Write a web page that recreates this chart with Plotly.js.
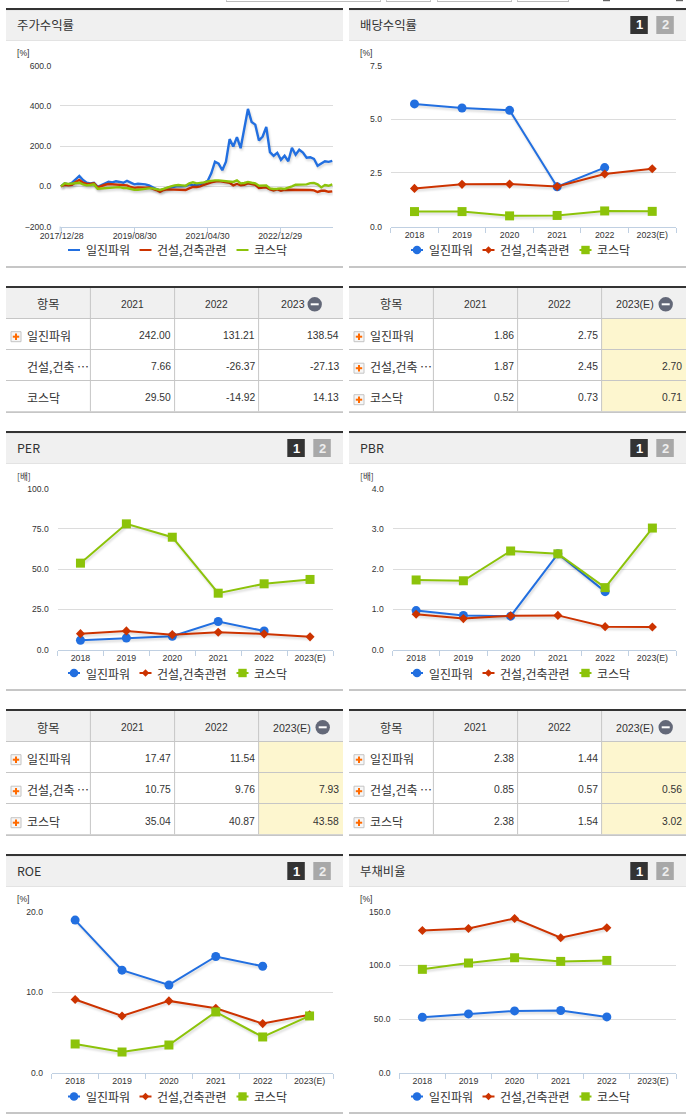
<!DOCTYPE html>
<html><head><meta charset="utf-8">
<script src="https://cdn.plot.ly/plotly-3.0.1.min.js"></script>
<style>
html,body{margin:0;padding:0;background:#fff;overflow:hidden}
#g{width:691px;height:1115px}
.scatterlayer .lines path{filter:drop-shadow(1px 2px 1px rgba(0,0,0,.16))}
</style></head><body><div id="g"></div>
<script>
const seriesNames=['일진파워','건설,건축관련','코스닥'];
const years=['2018','2019','2020','2021','2022','2023(E)'];

// 주가수익률 (monthly, %)
const stockDates=['2017/12/28','2019/08/30','2021/04/30','2022/12/29'];
const stockBlue=[0,15,10,18,35,52,32,18,15,18,
 -2,5,15,23,20,25,22,18,27,18,
 10,13,12,10,5,-5,-13,-20,-13,-8,
 -5,-2,2,0,2,10,5,7,10,18,
 27,65,123,113,80,123,235,198,245,190,
 290,385,320,307,228,248,295,170,152,167,
 132,152,125,192,157,182,168,143,145,137,
 102,115,125,122,127];
const stockRed=[0,8,5,8,22,32,18,12,12,15,
 -5,2,8,12,10,10,8,5,5,-3,
 -8,-5,-7,-7,-5,-10,-18,-27,-18,-15,
 -15,-17,-17,-17,-18,-10,-3,-3,0,8,
 15,20,24,26,24,22,18,5,12,5,
 8,15,12,8,-8,-8,-5,-15,-20,-15,
 -22,-17,-17,-15,-15,-15,-15,-15,-18,-20,
 -28,-22,-22,-27,-25];
const stockGreen=[0,15,12,13,15,18,10,5,7,10,
 -12,-10,-10,-8,-6,-5,-4,-8,-8,-12,
 -17,-17,-14,-13,-10,-10,-13,-18,-12,-5,
 0,5,7,5,3,15,20,15,16,20,
 25,28,30,30,28,26,24,22,30,15,
 17,22,18,15,3,5,5,-10,-13,-12,
 -10,-13,-8,0,8,8,8,10,16,17,
 10,-5,7,3,10];

const divBlue=[5.72,5.53,5.42,1.86,2.75,null];
const divRed=[1.78,1.97,1.98,1.87,2.45,2.70];
const divGreen=[0.70,0.70,0.50,0.52,0.73,0.71];
const perBlue=[5.8,7.2,8.3,17.47,11.54,null];
const perRed=[9.9,11.6,9.3,10.75,9.76,7.93];
const perGreen=[53.7,78.1,69.8,35.04,40.87,43.58];
const pbrBlue=[0.97,0.85,0.83,2.38,1.44,null];
const pbrRed=[0.88,0.77,0.84,0.85,0.57,0.56];
const pbrGreen=[1.73,1.71,2.45,2.38,1.54,3.02];
const roeBlue=[18.96,12.74,10.9,14.44,13.23,null];
const roeRed=[9.09,7.05,8.92,8.0,6.1,7.2];
const roeGreen=[3.57,2.57,3.44,7.55,4.44,7.05];
const debtBlue=[51.7,54.8,57.6,57.9,52,null];
const debtRed=[132.5,134.4,143.7,125.7,135,null];
const debtGreen=[96.3,102.2,107.1,103.7,104.6,null];

// table texts
const tReturn=[['242.00','131.21','138.54'],['7.66','-26.37','-27.13'],['29.50','-14.92','14.13']];
const tDiv=[['1.86','2.75',''],['1.87','2.45','2.70'],['0.52','0.73','0.71']];
const tPer=[['17.47','11.54',''],['10.75','9.76','7.93'],['35.04','40.87','43.58']];
const tPbr=[['2.38','1.44',''],['0.85','0.57','0.56'],['2.38','1.54','3.02']];

const W=691,H=1115;
const px=x=>x/W, py=y=>1-y/H;
const BLUE='#226fe0',RED='#cc3300',GREEN='#8cc30a';
const KR='"Noto Sans CJK KR","Noto Sans",sans-serif', LAT='"Liberation Sans",Arial,sans-serif';
const shapes=[],ann=[],traces=[];const layout={};

function rect(x0,y0,x1,y1,fill,line){shapes.push({type:'rect',xref:'paper',yref:'paper',layer:'below',
 x0:px(x0),x1:px(x1),y0:py(y1),y1:py(y0),fillcolor:fill,line:line?{color:line,width:1}:{width:0}});}
function circ(cx,cy,r,fill,line){shapes.push({type:'circle',xref:'paper',yref:'paper',layer:'below',
 x0:px(cx-r),x1:px(cx+r),y0:py(cy+r),y1:py(cy-r),fillcolor:fill,line:line?{color:line,width:1}:{width:0}});}
function poly(pts,fill){shapes.push({type:'path',xref:'paper',yref:'paper',layer:'below',
 path:'M'+pts.map(p=>px(p[0])+','+py(p[1])).join('L')+'Z',fillcolor:fill,line:{width:0}});}
function txt(x,y,text,anchor,size,color,family,extra){ann.push(Object.assign({xref:'paper',yref:'paper',x:px(x),y:py(y),text,
 showarrow:false,xanchor:anchor,yanchor:'middle',borderpad:0,borderwidth:0,font:{size,color,family}},extra||{}));}

function buttons(b1x,y){
 rect(b1x,y,b1x+17.5,y+18,'#333333');rect(b1x+26,y,b1x+43.5,y+18,'#a8a8a8');
 txt(b1x+8.8,y+9,'<b>1</b>','center',13,'#fff',LAT);txt(b1x+34.8,y+9,'<b>2</b>','center',13,'#eee',LAT);
}
function panel(x0,x1,top,title,showBtn,b1x){
 rect(x0,top,x1,top+2.2,'#333333');
 rect(x0,top+2.2,x1,top+32.5,'#f0f0f0');
 rect(x0,top+32.2,x1,top+33,'#dcdcdc');
 txt(x0+10.7,top+17,title,'left',12.4,'#333',KR);
 rect(x0,top+258,x1,top+260,'#c6c6c6');
 if(showBtn) buttons(b1x,top+8);
}
function legend(dx,y,withMarkers){
 const keys=[74,145.5,242.5], lefts=[86,157,254], cols=[BLUE,RED,GREEN];
 keys.forEach((k,i)=>{
  const cx=k+dx;
  rect(cx-6,y-1,cx+6,y+1,cols[i]);
  if(withMarkers){
   if(i==0)circ(cx,y,4.3,cols[i]);
   if(i==1)poly([[cx-3.7,y],[cx,y-3.7],[cx+3.7,y],[cx,y+3.7]],cols[i]);
   if(i==2)rect(cx-4.2,y-4.2,cx+4.2,y+4.2,cols[i]);
  }
  txt(lefts[i]+dx,y,seriesNames[i],'left',12,'#333',KR);
 });
}
function chart(n,x0,x1,yTop,yBot,ymin,ymax,dt,unit,unitX,xs,blue,red,green,markers,xOpts){
 const xa=n==1?'x':'x'+n, ya=n==1?'y':'y'+n;
 const names=[blue,red,green];
 const syms=['circle','diamond','square'],sizes=[9,7,9],cols=[BLUE,RED,GREEN];
 names.forEach((v,i)=>traces.push({x:xs,y:v,xaxis:xa,yaxis:ya,name:seriesNames[i],type:'scatter',
  mode:markers?'lines+markers':'lines',line:{color:cols[i],width:markers?2:2.4},
  marker:{color:cols[i],size:sizes[i],symbol:syms[i]},cliponaxis:false,hoverinfo:'skip',showlegend:false}));
 layout[n==1?'xaxis':'xaxis'+n]=Object.assign({domain:[px(x0),px(x1)],anchor:ya,showgrid:false,zeroline:false,
  showline:true,linecolor:'#c0d0e2',linewidth:1,ticks:'outside',ticklen:5,tickcolor:'#c0d0e2',tickwidth:1,
  tickfont:{size:8.8,color:'#333',family:LAT},tickangle:0},xOpts);
 layout[n==1?'yaxis':'yaxis'+n]={domain:[py(yBot),py(yTop)],anchor:xa,range:[ymin,ymax],tick0:ymin,dtick:dt,tickformat:'.1f',
  showgrid:true,gridcolor:'#dcdcdc',gridwidth:1,zeroline:false,showline:false,ticks:'outside',ticklen:6,tickcolor:'rgba(0,0,0,0)',
  tickfont:{size:8.6,color:'#333',family:LAT}};
 txt(unitX,yTop-13,unit,'left',8.6,'#333',unit=='[배]'?KR:LAT);
}
function catAxis(){return {type:'category',categoryorder:'array',categoryarray:years,range:[-0.5,5.5],tickson:'boundaries'};}

function table(x0,top,head3,rows,yellow,iconRows){
 const cols=[x0,x0+84.3,x0+168.5,x0+252.5,x0+337];
 const h0=top+2,h1=top+32.3,r1=top+63.3,r2=top+94.3,r3=top+125.3;
 rect(x0,top,cols[4],top+2.2,'#333333');
 rect(x0,h0,cols[4],h1,'#f0f0f0');
 if(yellow) rect(cols[3],h1,cols[4],r3,'#fdf6cf');
 [h1,r1,r2].forEach(y=>rect(x0,y-0.4,cols[4],y+0.6,'#c6c6c6'));
 rect(x0,r3,cols[4],r3+1.6,'#c6c6c6');
 [1,2,3].forEach(i=>rect(cols[i]-0.4,h0,cols[i]+0.6,r3,'#c6c6c6'));
 txt(x0+42,top+18.5,'항목','center',12.2,'#333',KR);
 txt((cols[1]+cols[2])/2,top+18.5,'2021','center',10.2,'#333',LAT);
 txt((cols[2]+cols[3])/2,top+18.5,'2022','center',10.2,'#333',LAT);
 const isE=head3.length>4;
 txt(x0+(isE?285.7:286.7),top+18.5,head3,'center',10.6,'#333',LAT);
 const ic=x0+(isE?316.7:308.7);
 circ(ic,top+18.3,7.2,'#636878');rect(ic-4,top+17.3,ic+4,top+19.3,'#fff');
 const ys=[top+49,top+80.5,top+112];
 rows.forEach((r,i)=>{
  if(iconRows[i]){
   const cx=x0+10,cy=ys[i]+1.7;
   rect(cx-5,cy-5,cx+5,cy+5,'#f6f6f6','#c4c4c4');
   rect(cx-3.2,cy-1,cx+3.2,cy+1,'#ff6a00');rect(cx-1,cy-3.2,cx+1,cy+3.2,'#ff6a00');
  }
  txt(x0+20.7,ys[i],i==1?'건설,건축\u2009…':seriesNames[i],'left',12,'#333',KR);
  r.forEach((v,j)=>{if(v)txt(cols[j+2]-4,ys[i],v,'right',10.3,'#333',LAT);});
 });
}

// panels
const L0=6,L1=343,R0=349,R1=686;
panel(L0,L1,8,'주가수익률',false);
panel(R0,R1,8,'배당수익률',true,630.3);
panel(L0,L1,431,'PER',true,287.3);
panel(R0,R1,431,'PBR',true,630.3);
panel(L0,L1,854,'ROE',true,287.3);
panel(R0,R1,854,'부채비율',true,630.3);

// charts
const stockX=stockBlue.map((_,i)=>i);
chart(1,60,333,65.7,226.6,-200,600,200,'[%]',17,stockX,stockBlue,stockRed,stockGreen,false,
 {type:'linear',range:[-0.27,74.2],tickmode:'array',tickvals:[0.2,20.1,40,59.8],ticktext:stockDates,ticklabelstandoff:-4});
rect(59.6,226.6,60.6,231.6,'#c0d0e2');
chart(2,390.7,676,65.7,226.6,0,7.5,2.5,'[%]',360,years,divBlue,divRed,divGreen,true,catAxis());
chart(3,57.5,333,488.6,649.6,0,100,25,'[배]',17,years,perBlue,perRed,perGreen,true,catAxis());
chart(4,392.5,676,488.6,649.6,0,4,1,'[배]',360,years,pbrBlue,pbrRed,pbrGreen,true,catAxis());
chart(5,51.7,333,911.7,1072.7,0,20,10,'[%]',17,years,roeBlue,roeRed,roeGreen,true,catAxis());
chart(6,399.3,676,911.7,1072.7,0,150,50,'[%]',360,years,debtBlue,debtRed,debtGreen,true,catAxis());

// legends
legend(0,250,false);legend(343,250,true);
legend(0,673,true);legend(343,673,true);
legend(0,1096.5,true);legend(343,1096.5,true);

// tables
table(L0,286,'2023',tReturn,false,[true,false,false]);
table(R0,286,'2023(E)',tDiv,true,[true,true,true]);
table(L0,709,'2023(E)',tPer,true,[true,true,true]);
table(R0,709,'2023(E)',tPbr,true,[true,true,true]);

// cut-off controls along the top edge
[[226,381],[386,431],[437,512],[517,569]].forEach(b=>{
 rect(b[0],0,b[1],1.4,'#ffffff');rect(b[0],1,b[1],2,'#bdbdbd');
 rect(b[0],0,b[0]+0.8,1.6,'#bdbdbd');rect(b[1]-0.8,0,b[1],1.6,'#bdbdbd');
});
rect(603,0,610,1.2,'#666');rect(676,0,683,1.2,'#666');

Object.assign(layout,{width:W,height:H,margin:{l:0,r:0,t:0,b:0},paper_bgcolor:'#fff',plot_bgcolor:'rgba(0,0,0,0)',
 showlegend:false,shapes,annotations:ann,hovermode:false});
Plotly.newPlot('g',traces,layout,{displayModeBar:false,staticPlot:true});
</script></body></html>
